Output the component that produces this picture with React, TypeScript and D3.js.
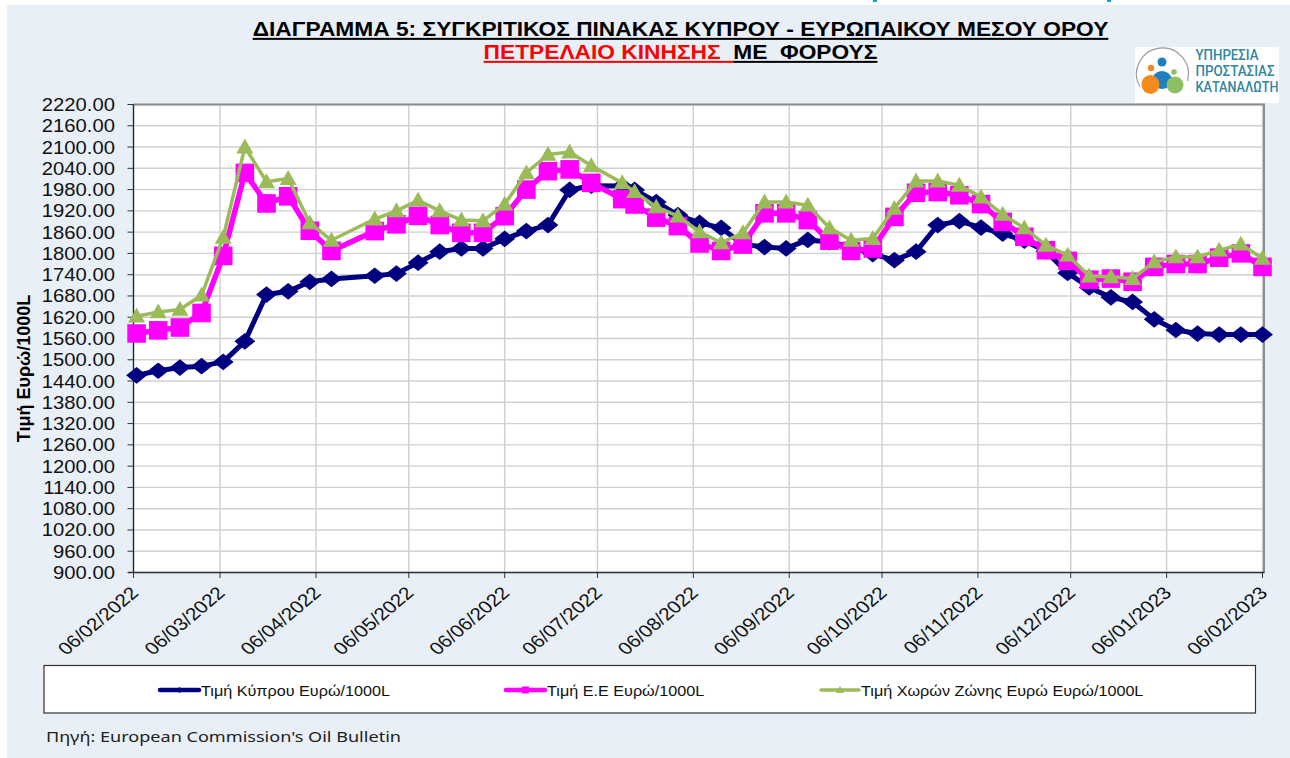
import React from "react";
import * as d3 from "d3";

const weekDates = [
  "2022-02-07","2022-02-14","2022-02-21","2022-02-28","2022-03-07","2022-03-14","2022-03-21","2022-03-28",
  "2022-04-04","2022-04-11","2022-04-25","2022-05-02","2022-05-09","2022-05-16","2022-05-23","2022-05-30",
  "2022-06-06","2022-06-13","2022-06-20","2022-06-27","2022-07-04","2022-07-14","2022-07-18","2022-07-25",
  "2022-08-01","2022-08-08","2022-08-15","2022-08-22","2022-08-29","2022-09-05","2022-09-12","2022-09-19",
  "2022-09-26","2022-10-03","2022-10-10","2022-10-17","2022-10-24","2022-10-31","2022-11-07","2022-11-14",
  "2022-11-21","2022-11-28","2022-12-05","2022-12-12","2022-12-19","2022-12-26","2023-01-02","2023-01-09",
  "2023-01-16","2023-01-23","2023-01-30","2023-02-06",
];
const cyprus = [
  1456,1469,1478,1482,1494,1552,1684,1693,1720,1728,1737,1743,1774,1805,1814,1814,
  1841,1863,1880,1979,1991,1990,1979,1945,1908,1886,1872,1826,1818,1814,1838,1832,
  1818,1798,1781,1805,1880,1891,1873,1856,1836,1806,1745,1704,1676,1663,1614,1584,
  1574,1571,1571,1571,
];
const eu = [
  1574,1583,1591,1632,1793,2027,1941,1961,1864,1807,1863,1882,1906,1880,1858,1858,
  1905,1980,2032,2037,1999,1953,1938,1901,1877,1828,1807,1825,1913,1913,1894,1836,
  1807,1814,1903,1971,1973,1964,1939,1889,1847,1809,1779,1726,1729,1720,1762,1770,
  1770,1788,1800,1762,
];
const euro = [
  1623,1635,1642,1682,1845,2100,2002,2011,1886,1837,1897,1920,1950,1920,1894,1892,
  1939,2027,2079,2086,2047,1999,1974,1931,1905,1861,1830,1858,1945,1945,1936,1872,
  1837,1842,1927,2004,2004,1992,1959,1910,1872,1823,1795,1736,1734,1729,1776,1790,
  1790,1809,1826,1786,
];
const monthTicks = [
  "2022-02-06","2022-03-06","2022-04-06","2022-05-06","2022-06-06","2022-07-06","2022-08-06",
  "2022-09-06","2022-10-06","2022-11-06","2022-12-06","2023-01-06","2023-02-06",
];
const valueTicks = d3.range(900, 2221, 60);
const seriesNames = ["Τιμή Κύπρου Ευρώ/1000L", "Τιμή Ε.Ε Ευρώ/1000L", "Τιμή Χωρών Ζώνης Ευρώ Ευρώ/1000L"];
const logoLines = ["ΥΠΗΡΕΣΙΑ", "ΠΡΟΣΤΑΣΙΑΣ", "ΚΑΤΑΝΑΛΩΤΗ"];

const NAVY = "#000080";
const PINK = "#FF00FF";
const GREEN = "#9BBB59";
const ARIAL = "'Liberation Sans', Arial, sans-serif";

const parse = d3.utcParse("%Y-%m-%d");
const fmt = d3.utcFormat("%d/%m/%Y");
const dates = weekDates.map((d) => parse(d) as Date);

const x = d3.scaleUtc().domain([parse("2022-02-06") as Date, parse("2023-02-06") as Date]).range([133.5, 1262.5]);
const y = d3.scaleLinear().domain([900, 2220]).range([572.5, 104.5]);
const line = d3.line<number>().x((_, i) => x(dates[i])).y((v) => y(v));

const diamond = (cx: number, cy: number, r: number) => `M${cx},${cy - r * 0.88}L${cx + r * 1.1},${cy}L${cx},${cy + r * 0.88}L${cx - r * 1.1},${cy}Z`;
const square = (cx: number, cy: number, r: number) => `M${cx - r},${cy - r}h${2 * r}v${2 * r}h${-2 * r}Z`;
const triangle = (cx: number, cy: number, r: number) => `M${cx},${cy - r}L${cx + r},${cy + r * 0.75}L${cx - r},${cy + r * 0.75}Z`;

function Series({ values, color, width, marker, r }: { values: number[]; color: string; width: number; marker: (a: number, b: number, c: number) => string; r: number }) {
  return (
    <g>
      <path d={line(values) as string} fill="none" stroke={color} strokeWidth={width} strokeLinejoin="round" />
      {values.map((v, i) => (
        <path key={i} d={marker(x(dates[i]), y(v), r)} fill={color} />
      ))}
    </g>
  );
}

function LegendKey({ x0, x1, cy, color, marker, r, label, width }: { x0: number; x1: number; cy: number; color: string; marker: (a: number, b: number, c: number) => string; r: number; label: string; width: number }) {
  return (
    <g>
      <line x1={x0} x2={x1} y1={cy} y2={cy} stroke={color} strokeWidth={width} strokeLinecap="round" />
      <path d={marker((x0 + x1) / 2, cy, r)} fill={color} />
      <text transform={`translate(${x1 + 2},${cy + 5.5}) scale(1.14,1)`} fontFamily={ARIAL} fontSize={14.2} fill="#111">{label}</text>
    </g>
  );
}

function Logo() {
  return (
    <g>
      <rect x={1135} y={47} width={144} height={56} fill="#fff" />
      <path d="M1140,87 A26,26 0 1 1 1187.5,81" fill="none" stroke="#9a9a9a" strokeWidth={1.2} />
      <circle cx={1162} cy={62} r={4.5} fill="#1F7FC0" />
      <circle cx={1151} cy={68} r={3.2} fill="#F08A24" />
      <circle cx={1174} cy={72} r={2.8} fill="#8CC063" />
      <ellipse cx={1162} cy={80} rx={10} ry={9} fill="#1F7FC0" />
      <ellipse cx={1150.5} cy={84.5} rx={9} ry={9.5} fill="#F28A1E" />
      <ellipse cx={1175} cy={85} rx={8.5} ry={8.5} fill="#8CC063" />
      {logoLines.map((t, i) => (
        <text key={t} x={1195.5} y={59.5 + i * 16} fontFamily="'Liberation Sans Narrow','Roboto',sans-serif" fontSize={14.5} fontWeight={500} fill="#2E86A0" textLength={i === 0 ? 63 : i === 1 ? 79 : 83} lengthAdjust="spacingAndGlyphs">{t}</text>
      ))}
    </g>
  );
}

export default function App() {
  return (
    <svg width={1290} height={758} style={{ position: "absolute", left: 0, top: 0, display: "block" }}>
      <rect width={1290} height={758} fill="#fff" />
      <rect x={7} y={5} width={1283} height={753} fill="#E8EFF7" />
      <rect x={873} y={0} width={4} height={2} fill="#1F9BC8" />
      <rect x={1107} y={0} width={4} height={2} fill="#1F9BC8" />

      <text transform="translate(680.5,36) scale(1.138,1)" textAnchor="middle" fontFamily={ARIAL} fontSize={20} fontWeight={700} textDecoration="underline" fill="#000">
        ΔΙΑΓΡΑΜΜΑ 5: ΣΥΓΚΡΙΤΙΚΟΣ ΠΙΝΑΚΑΣ ΚΥΠΡΟΥ - ΕΥΡΩΠΑΙΚΟΥ ΜΕΣΟΥ ΟΡΟΥ
      </text>
      <text transform="translate(680.5,59) scale(1.138,1)" textAnchor="middle" fontFamily={ARIAL} fontSize={20} fontWeight={700} xmlSpace="preserve">
        <tspan fill="#FF0000" textDecoration="underline">ΠΕΤΡΕΛΑΙΟ ΚΙΝΗΣΗΣ  </tspan>
        <tspan fill="#000" textDecoration="underline">ΜΕ  ΦΟΡΟΥΣ</tspan>
      </text>

      <Logo />

      <rect x={133.5} y={104.5} width={1130.5} height={468} fill="#fff" />
      {valueTicks.map((v) => (
        <line key={v} x1={133.5} x2={1264} y1={y(v)} y2={y(v)} stroke="#D0D0D0" strokeWidth={1.4} />
      ))}
      {monthTicks.map((d) => {
        const px = x(parse(d) as Date);
        return <line key={d} x1={px} x2={px} y1={104.5} y2={572.5} stroke="#CFCFCF" strokeWidth={1.4} />;
      })}
      <path d="M133.5,104.5H1264V572.5" fill="none" stroke="#8c8c8c" strokeWidth={2} />
      <line x1={133.5} x2={133.5} y1={104.5} y2={572.5} stroke="#222" strokeWidth={1.3} />
      <line x1={128} x2={1264.5} y1={572.5} y2={572.5} stroke="#333" strokeWidth={1.3} />

      {valueTicks.map((v) => (
        <g key={v}>
          <line x1={127.5} x2={133.5} y1={y(v)} y2={y(v)} stroke="#333" strokeWidth={1} />
          <text transform={`translate(115,${y(v) + 6.5}) scale(1.125,1)`} textAnchor="end" fontFamily={ARIAL} fontSize={18} fill="#111">{v.toFixed(2)}</text>
        </g>
      ))}
      {monthTicks.map((d) => {
        const date = parse(d) as Date;
        const px = x(date);
        return (
          <g key={d}>
            <line x1={px} x2={px} y1={572.5} y2={578} stroke="#333" strokeWidth={1} />
            <text transform={`translate(${px + 6},${594}) scale(1.18,1) rotate(-45)`} textAnchor="end" fontFamily={ARIAL} fontSize={17.5} fill="#111">{fmt(date)}</text>
          </g>
        );
      })}

      <text transform="translate(29.5,368.5) rotate(-90)" textAnchor="middle" fontFamily={ARIAL} fontSize={18} fontWeight={700} fill="#000">Τιμή Ευρώ/1000L</text>

      <Series values={cyprus} color={NAVY} width={5} marker={diamond} r={9.5} />
      <Series values={eu} color={PINK} width={5.5} marker={square} r={9.3} />
      <Series values={euro} color={GREEN} width={3.5} marker={triangle} r={8.5} />

      <rect x={44} y={665.5} width={1211.5} height={47.5} fill="#fff" stroke="#333" strokeWidth={1.2} />
      <LegendKey x0={160} x1={199} cy={690} color={NAVY} marker={diamond} r={3.5} label={seriesNames[0]} width={4.5} />
      <LegendKey x0={506} x1={545} cy={690} color={PINK} marker={square} r={3.5} label={seriesNames[1]} width={4.5} />
      <LegendKey x0={821} x1={859} cy={690} color={GREEN} marker={triangle} r={4} label={seriesNames[2]} width={3.5} />

      <text x={46} y={742} fontFamily="'Noto Sans', 'Open Sans', sans-serif" fontSize={15} fill="#222" textLength={355} lengthAdjust="spacingAndGlyphs">Πηγή: European Commission's Oil Bulletin</text>
    </svg>
  );
}
